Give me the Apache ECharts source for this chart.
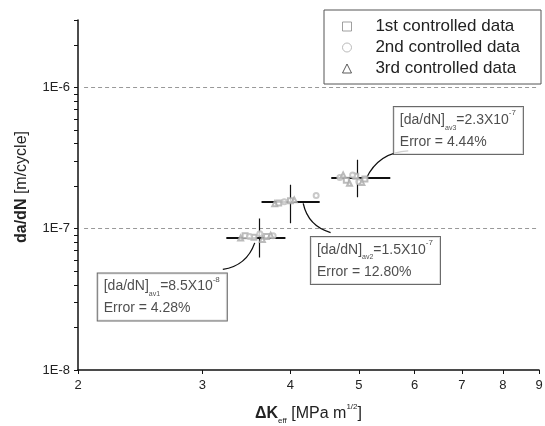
<!DOCTYPE html>
<html>
<head>
<meta charset="utf-8">
<script src="https://cdn.jsdelivr.net/npm/echarts@6/dist/echarts.min.js"></script>
<style>
  html, body { margin: 0; padding: 0; background: #fff; }
  #chart { width: 545px; height: 426px; }
</style>
</head>
<body>
<div id="chart"></div>
<script>
// tick values
const xTicks = [2, 3, 4, 5, 6, 7, 8, 9];
const yMajor = [1e-8, 1e-7, 1e-6];
const yMinor = [2e-8, 3e-8, 4e-8, 5e-8, 6e-8, 7e-8, 8e-8, 9e-8,
                2e-7, 3e-7, 4e-7, 5e-7, 6e-7, 7e-7, 8e-7, 9e-7, 2e-6, 3e-6];
const gridLevels = [1e-7, 1e-6];

// raw controlled data (approximate)
const data1st = [[3.45, 8.9e-8], [3.55, 8.7e-8], [3.7, 8.8e-8], [3.85, 1.52e-7], [4.0, 1.58e-7],
                 [4.8, 2.2e-7], [4.95, 2.35e-7], [5.1, 2.25e-7]];
const data2nd = [[3.5, 8.8e-8], [3.62, 9.2e-8], [3.78, 8.9e-8], [3.92, 1.55e-7], [4.35, 1.72e-7],
                 [4.7, 2.3e-7], [4.9, 2.4e-7], [5.0, 2.15e-7]];
const data3rd = [[3.4, 8.6e-8], [3.65, 8.4e-8], [3.75, 9.0e-8], [3.8, 1.5e-7], [4.05, 1.6e-7],
                 [4.75, 2.4e-7], [4.85, 2.1e-7], [5.05, 2.12e-7]];

// averages with scatter ranges
const avgX = [3.61, 4.0, 4.98];
const avgY = [8.6e-8, 1.556e-7, 2.31e-7];
const xLow = [3.245, 3.64, 4.57];
const xHigh = [3.935, 4.40, 5.54];
const yLow = [6.25e-8, 1.094e-7, 1.67e-7];
const yHigh = [1.18e-7, 2.05e-7, 3.08e-7];

// annotation boxes
const noteAnchor = [[2.133, 4.82e-8], [4.276, 8.75e-8], [5.605, 7.26e-7]];
const noteIdx = ['av1', 'av2', 'av3'];
const noteVal = ['8.5X10', '1.5X10', '2.3X10'];
const noteExp = ['-8', '-7', '-7'];
const noteErr = ['4.28%', '12.80%', '4.44%'];
const arrowFrom = [[3.208, 5.15e-8], [4.56, 9.4e-8], [5.875, 3.55e-7]];
const arrowTo = [[3.56, 7.94e-8], [4.17, 1.51e-7], [5.12, 2.26e-7]];
const arrowBend = [-0.3, 0.3, -0.3];

const seriesNames = ['1st controlled data', '2nd controlled data', '3rd controlled data'];

const chart = echarts.init(document.getElementById('chart'));

const font = 'Liberation Sans, Arial, sans-serif';

const option = {
    animation: false,
    textStyle: { fontFamily: font },
    grid: { left: 78, right: 6, top: 20, bottom: 56, outerBoundsMode: 'none', containLabel: false },
    legend: {
        orient: 'vertical',
        left: 324, top: 10,
        padding: [8, 21, 7, 18],
        itemWidth: 9, itemHeight: 9, itemGap: 4,
        borderColor: '#555', borderWidth: 1,
        backgroundColor: '#fff',
        textStyle: { fontSize: 17, color: '#222', fontFamily: font },
        formatter: name => '    ' + name,
        data: [
            { name: seriesNames[0], icon: 'rect', itemStyle: { color: 'transparent', borderColor: '#888', borderWidth: 1 } },
            { name: seriesNames[1], icon: 'circle', itemStyle: { color: 'transparent', borderColor: '#aaa', borderWidth: 1 } },
            { name: seriesNames[2], icon: 'triangle', itemStyle: { color: 'transparent', borderColor: '#333', borderWidth: 1 } }
        ]
    },
    xAxis: {
        type: 'log', logBase: 10, min: 2, max: 9,
        name: '{b|ΔK}{sub|eff} [MPa m{sup|1/2}]',
        nameLocation: 'middle', nameGap: 33,
        nameTextStyle: {
            fontSize: 16, color: '#222',
            rich: {
                b: { fontSize: 16, fontWeight: 'bold', color: '#222', lineHeight: 22 },
                sub: { fontSize: 8, verticalAlign: 'bottom', color: '#222', lineHeight: 22 },
                sup: { fontSize: 8, verticalAlign: 'top', color: '#222', lineHeight: 22 }
            }
        },
        axisLine: { lineStyle: { color: '#111', width: 1.5 } },
        axisTick: { customValues: xTicks, length: 4, lineStyle: { color: '#111' } },
        axisLabel: { customValues: xTicks, fontSize: 13, color: '#222', margin: 9 },
        splitLine: { show: false }
    },
    yAxis: {
        type: 'log', logBase: 10, min: 1e-8, max: 3e-6,
        position: 'left',
        name: '{b|da/dN} [m/cycle]',
        nameLocation: 'middle', nameGap: 48,
        nameTextStyle: {
            fontSize: 16, color: '#222', padding: [0, 0, 0, 16],
            rich: { b: { fontSize: 16, fontWeight: 'bold', color: '#222' } }
        },
        axisLine: { lineStyle: { color: '#111', width: 1.5 } },
        axisTick: { customValues: yMajor.concat(yMinor), length: 4, lineStyle: { color: '#111' } },
        axisLabel: {
            customValues: yMajor, fontSize: 13, color: '#222', margin: 8,
            formatter: v => '1E' + Math.round(Math.log10(v))
        },
        splitLine: { show: false }
    },
    series: [
        {
            // dotted reference lines at the labelled decades
            type: 'lines', coordinateSystem: 'cartesian2d', silent: true, z: 1,
            lineStyle: { color: '#999', type: [4, 3], width: 1, opacity: 1 },
            data: gridLevels.map(v => ({ coords: [[2.04, v], [9, v]] }))
        },
        {
            name: seriesNames[0], type: 'scatter', symbol: 'emptyRect', symbolSize: 5,
            itemStyle: { color: '#aaa' }, data: data1st, silent: true
        },
        {
            name: seriesNames[1], type: 'scatter', symbol: 'emptyCircle', symbolSize: 5,
            itemStyle: { color: '#bbb' }, data: data2nd, silent: true
        },
        {
            name: seriesNames[2], type: 'scatter', symbol: 'emptyTriangle', symbolSize: 5,
            itemStyle: { color: '#aaa' }, data: data3rd, silent: true
        },
        {
            // horizontal scatter bars
            type: 'lines', coordinateSystem: 'cartesian2d', silent: true,
            lineStyle: { color: '#111', width: 1.8, opacity: 1 },
            data: avgY.map((y, i) => ({ coords: [[xLow[i], y], [xHigh[i], y]] }))
        },
        {
            // vertical scatter bars
            type: 'lines', coordinateSystem: 'cartesian2d', silent: true,
            lineStyle: { color: '#111', width: 1.2, opacity: 1 },
            data: avgX.map((x, i) => ({ coords: [[x, yLow[i]], [x, yHigh[i]]] }))
        },
        {
            // leader curves
            type: 'lines', coordinateSystem: 'cartesian2d', silent: true,
            lineStyle: { color: '#111', width: 1.3, opacity: 1 },
            data: arrowFrom.map((p, i) => ({ coords: [p, arrowTo[i]], lineStyle: { curveness: arrowBend[i] } }))
        },
        {
            // note boxes
            type: 'scatter', symbolSize: 0, silent: true, z: 10,
            data: noteAnchor,
            label: {
                show: true,
                position: [0, 0],
                backgroundColor: '#fff',
                borderColor: '#444', borderWidth: 1,
                padding: [2, 7, 1, 6],
                formatter: p => {
                    const i = p.dataIndex;
                    return '{t|[da/dN]}{sub|' + noteIdx[i] + '}{t|=' + noteVal[i] + '}{sup|' + noteExp[i] + '}\n' +
                        '{t|Error = ' + noteErr[i] + '}';
                },
                rich: {
                    t: { fontSize: 14, color: '#222', lineHeight: 22, fontFamily: font },
                    sub: { fontSize: 7, color: '#222', lineHeight: 22, verticalAlign: 'bottom', fontFamily: font },
                    sup: { fontSize: 8, color: '#222', lineHeight: 22, verticalAlign: 'top', fontFamily: font }
                }
            }
        }
    ]
};

chart.setOption(option);
</script>
</body>
</html>
